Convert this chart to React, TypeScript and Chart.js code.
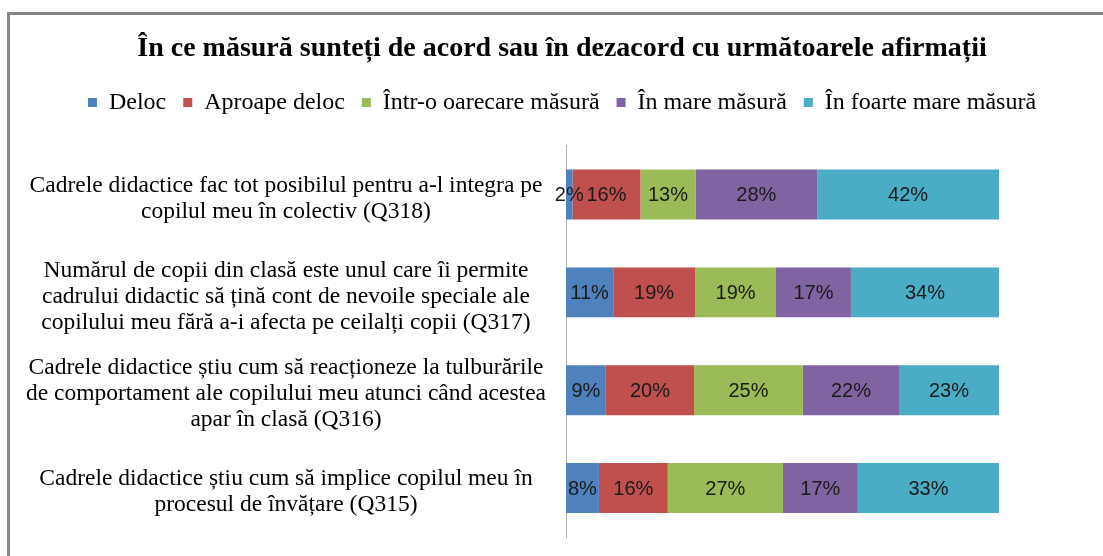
import React, { useEffect, useRef } from "react";
import { Chart, registerables } from "chart.js";

Chart.register(...registerables);

const titleText = "În ce măsură sunteți de acord sau în dezacord cu următoarele afirmații";

const categories: string[][] = [
  ["Cadrele didactice fac tot posibilul pentru a-l integra pe", "copilul meu în colectiv (Q318)"],
  ["Numărul de copii din clasă este unul care îi permite", "cadrului didactic să țină cont de nevoile speciale ale", "copilului meu fără a-i afecta pe ceilalți copii (Q317)"],
  ["Cadrele didactice știu cum să reacționeze la tulburările", "de comportament ale copilului meu atunci când acestea", "apar în clasă (Q316)"],
  ["Cadrele didactice știu cum să implice copilul meu în", "procesul de învățare (Q315)"],
];

const seriesNames = ["Deloc", "Aproape deloc", "Într-o oarecare măsură", "În mare măsură", "În foarte mare măsură"];
const seriesColors = ["#4F81BD", "#C0504D", "#9BBB59", "#8064A2", "#4BACC6"];

const delocValues = [1.5, 10.9, 9.2, 7.6];
const aproapeDelocValues = [15.7, 18.9, 20.4, 15.9];
const oarecareValues = [12.7, 18.7, 25.1, 26.6];
const mareValues = [28.1, 17.3, 22.2, 17.3];
const foarteMareValues = [42.0, 34.2, 23.1, 32.6];

const seriesValues = [delocValues, aproapeDelocValues, oarecareValues, mareValues, foarteMareValues];

const SERIF = "'Liberation Serif', 'Times New Roman', serif";

const barLabelsPlugin = {
  id: "barLabels",
  afterDatasetsDraw(chart: any) {
    const ctx = chart.ctx;
    ctx.save();
    ctx.font = "20px 'Liberation Sans', Arial, sans-serif";
    ctx.fillStyle = "#1a1a1a";
    ctx.textAlign = "center";
    ctx.textBaseline = "middle";
    chart.data.datasets.forEach((ds: any, i: number) => {
      const meta = chart.getDatasetMeta(i);
      meta.data.forEach((el: any, j: number) => {
        const v = ds.data[j];
        const cx = (el.x + el.base) / 2;
        ctx.fillText(Math.round(v) + "%", cx, el.y + 1);
      });
    });
    ctx.restore();
  },
};

const legendMarginPlugin = {
  id: "legendMargin",
  beforeInit(chart: any) {
    const legend = chart.legend;
    if (!legend) return;
    const origFit = legend.fit;
    legend.fit = function () {
      origFit.call(this);
      this.height += 21;
    };
  },
};

export default function App() {
  const ref = useRef<HTMLCanvasElement>(null);
  useEffect(() => {
    if (!ref.current) return;
    const chart = new Chart(ref.current, {
      type: "bar",
      data: {
        labels: categories,
        datasets: seriesNames.map((name, i) => ({
          label: name,
          data: seriesValues[i],
          backgroundColor: seriesColors[i],
          borderWidth: 0,
          barPercentage: 0.51,
          categoryPercentage: 1,
          yAxisID: "y",
          xAxisID: "x",
        })),
      },
      options: {
        indexAxis: "y",
        animation: false,
        responsive: false,
        maintainAspectRatio: false,
        layout: { padding: { left: 0, right: 0, top: 0, bottom: 38 } },
        plugins: {
          title: {
            display: true,
            text: titleText,
            color: "#000",
            font: { family: SERIF, size: 28, weight: "bold" },
            padding: { top: 17, bottom: 8 },
          },
          legend: {
            display: true,
            position: "top",
            labels: {
              color: "#000",
              boxWidth: 9,
              boxHeight: 9,
              padding: 17,
              font: { family: SERIF, size: 24 },
            },
          },
          tooltip: { enabled: false },
        },
        scales: {
          x: {
            display: false,
            stacked: true,
            min: 0,
            max: 100,
          },
          y: {
            stacked: true,
            position: "left",
            grid: { display: false, drawTicks: false },
            border: { display: true, color: "#b0b0b0", width: 1 },
            afterFit(scale: any) {
              scale.width = 556;
              scale.paddingTop = 0;
              scale.paddingBottom = 0;
            },
            ticks: {
              crossAlign: "center",
              padding: 20,
              labelOffset: 4,
              color: "#000",
              font: { family: SERIF, size: 23.5, lineHeight: "26px" },
            },
          },
          rightSpace: {
            type: "category",
            labels: [""],
            position: "right",
            display: true,
            grid: { display: false, drawTicks: false },
            border: { display: false },
            ticks: { display: false },
            afterFit(scale: any) {
              scale.width = 115;
              scale.paddingTop = 0;
              scale.paddingBottom = 0;
            },
          },
        },
      },
      plugins: [barLabelsPlugin, legendMarginPlugin],
    });
    return () => chart.destroy();
  }, []);

  return (
    <div style={{ position: "fixed", left: 0, top: 0, width: 1103, height: 556, overflow: "hidden", background: "#fff" }}>
      <div
        style={{
          position: "absolute",
          left: 7,
          top: 12,
          width: 1104,
          height: 560,
          borderTop: "3px solid #868686",
          borderLeft: "3px solid #868686",
          borderRight: "3px solid #868686",
        }}
      >
        <canvas ref={ref} width={1104} height={560} style={{ display: "block" }} />
      </div>
    </div>
  );
}
